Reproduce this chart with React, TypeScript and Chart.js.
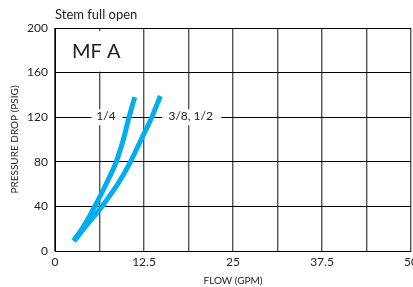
import React, { useEffect, useRef } from "react";
import { Chart, registerables } from "chart.js";

Chart.register(...registerables);

const TITLE = "Stem full open";
const MODEL = "MF A";
const X_TITLE = "FLOW (GPM)";
const Y_TITLE = "PRESSURE DROP (PSIG)";
const X_LABELS = [0, 12.5, 25, 37.5, 50];

const S1_NAME = "1/4";
const S1_FLOW = [2.6, 4.0, 5.6, 7.4, 8.6, 9.6, 10.4, 11.2];
const S1_PSI = [9, 22, 40, 63, 80, 100, 120, 138];

const S2_NAME = "3/8, 1/2";
const S2_FLOW = [2.7, 4.3, 6.6, 9.1, 10.6, 12.1, 13.6, 14.8];
const S2_PSI = [9, 22, 40, 63, 80, 100, 120, 139];

const BLUE = "#00AEEF";
const FONT = "Lato, 'Open Sans', sans-serif";

const toPoints = (xs: number[], ys: number[]) => xs.map((x, i) => ({ x, y: ys[i] }));

const overlayPlugin = {
  id: "overlay",
  beforeDatasetsDraw(chart: any) {
    const { ctx, chartArea, scales } = chart;
    const xs = scales.x;
    const ys = scales.y;
    ctx.save();
    // White box behind the model label (covers grid line in top-left cell)
    const boxRight = xs.getPixelForValue(12.5) - 1;
    const boxBottom = ys.getPixelForValue(160) - 1;
    ctx.fillStyle = "#fff";
    ctx.fillRect(chartArea.left + 1, chartArea.top + 3, boxRight - chartArea.left - 1, boxBottom - chartArea.top - 3);
    // Series labels on the 120 line with white boxes
    const yPix = ys.getPixelForValue(120);
    const labels = [
      { text: S1_NAME, cx: xs.getPixelForValue(7.3), w: 31 },
      { text: S2_NAME, cx: xs.getPixelForValue(19.2), w: 59 },
    ];
    ctx.font = "12px " + FONT;
    ctx.textAlign = "center";
    ctx.textBaseline = "middle";
    labels.forEach((l) => {
      ctx.fillStyle = "#fff";
      ctx.fillRect(l.cx - l.w / 2, yPix - 8, l.w, 16);
      ctx.fillStyle = "#222";
      ctx.fillText(l.text, l.cx - 1, yPix - 1);
    });
    // Title
    ctx.textAlign = "left";
    ctx.font = "13px " + FONT;
    ctx.fillStyle = "#222";
    ctx.fillText(TITLE, chartArea.left, 15);
    // Model label
    ctx.font = "20px " + FONT;
    ctx.fillText(MODEL, chartArea.left + 17, 52);
    ctx.restore();
  },
};

export default function App() {
  const ref = useRef<HTMLCanvasElement>(null);
  useEffect(() => {
    if (!ref.current) return;
    const chart = new Chart(ref.current, {
      type: "line",
      data: {
        datasets: [
          {
            label: S1_NAME,
            data: toPoints(S1_FLOW, S1_PSI),
            borderColor: BLUE,
            borderWidth: 5,
            pointRadius: 0,
            cubicInterpolationMode: "monotone",
            borderCapStyle: "butt",
          },
          {
            label: S2_NAME,
            data: toPoints(S2_FLOW, S2_PSI),
            borderColor: BLUE,
            borderWidth: 5,
            pointRadius: 0,
            cubicInterpolationMode: "monotone",
            borderCapStyle: "butt",
          },
        ],
      },
      options: {
        responsive: false,
        animation: false,
        layout: { padding: { top: 28, right: 14, left: 0, bottom: 0 } },
        plugins: { legend: { display: false }, tooltip: { enabled: false } },
        scales: {
          x: {
            type: "linear",
            min: 0,
            max: 50,
            afterFit: (s: any) => {
              s.height = 36;
            },
            ticks: {
              stepSize: 6.25,
              padding: 4,
              color: "#222",
              font: { family: FONT, size: 12 },
              maxRotation: 0,
              autoSkip: false,
              callback: (v: any) => (X_LABELS.includes(Number(v)) ? String(v) : ""),
            },
            grid: { color: "#555", lineWidth: 1.4, drawTicks: false },
            border: { display: true, color: "#000", width: 1 },
            title: {
              display: true,
              text: X_TITLE,
              color: "#222",
              font: { family: FONT, size: 10 },
              padding: { top: 4, bottom: 0 },
            },
          },
          y: {
            min: 0,
            max: 200,
            afterFit: (s: any) => {
              s.width = 55;
            },
            ticks: {
              stepSize: 40,
              padding: 7,
              color: "#222",
              font: { family: FONT, size: 12 },
            },
            grid: { color: "#000", lineWidth: 1, drawTicks: false },
            border: { display: true, color: "#000", width: 1 },
            title: {
              display: true,
              text: Y_TITLE,
              color: "#222",
              font: { family: FONT, size: 10 },
              padding: { top: 9, bottom: 0 },
            },
          },
        },
      },
      plugins: [overlayPlugin],
    } as any);
    return () => chart.destroy();
  }, []);
  return (
    <div
      style={{
        position: "absolute",
        left: 0,
        top: 0,
        width: 413,
        height: 287,
        overflow: "hidden",
        background: "#fff",
      }}
    >
      <canvas ref={ref} width={425} height={287} style={{ display: "block" }} />
    </div>
  );
}
